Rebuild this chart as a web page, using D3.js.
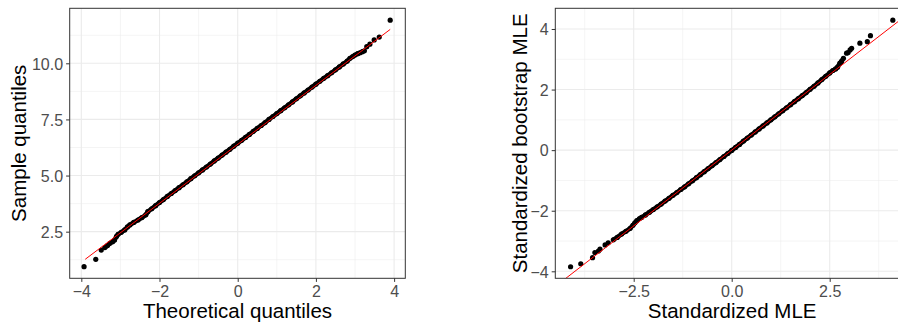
<!DOCTYPE html>
<html>
<head>
<meta charset="utf-8">
<script src="https://cdn.jsdelivr.net/npm/d3@7"></script>
<style>
  body { margin: 0; background: #fff; }
  svg { display: block; font-family: "Liberation Sans", Arial, sans-serif; }
</style>
</head>
<body>
<svg id="chart" width="898" height="324"></svg>
<script>
// left panel: normal QQ plot of the sample (theoretical, sample)
const qqLeft = [
  [-3.93, 0.94], [-3.63, 1.27], [-3.49, 1.68], [-3.40, 1.79], [-3.33, 1.88], [-3.27, 1.98],
  [-3.20, 2.05], [-3.15, 2.13], [-3.10, 2.29], [-3.06, 2.38], [-2.98, 2.47], [-2.89, 2.58],
  [-2.82, 2.71], [-2.76, 2.80], [-2.66, 2.91], [-2.55, 3.02], [-2.45, 3.13], [-2.35, 3.25],
  [-2.30, 3.39], [-2.20, 3.52], [-2.10, 3.66], [-2.00, 3.80], [-1.90, 3.93], [-1.80, 4.07],
  [-1.70, 4.20], [-1.60, 4.33], [-1.50, 4.46], [-1.40, 4.59], [-1.30, 4.72], [-1.20, 4.86],
  [-1.10, 4.99], [-1.00, 5.12], [-0.90, 5.25], [-0.80, 5.38], [-0.70, 5.51], [-0.60, 5.65],
  [-0.50, 5.78], [-0.40, 5.91], [-0.30, 6.04], [-0.20, 6.17], [-0.10, 6.31], [0.00, 6.44],
  [0.10, 6.57], [0.20, 6.70], [0.30, 6.83], [0.40, 6.97], [0.50, 7.10], [0.60, 7.23],
  [0.70, 7.36], [0.80, 7.50], [0.90, 7.63], [1.00, 7.76], [1.10, 7.89], [1.20, 8.02],
  [1.30, 8.15], [1.40, 8.28], [1.50, 8.42], [1.60, 8.55], [1.70, 8.68], [1.80, 8.81],
  [1.90, 8.94], [2.00, 9.07], [2.10, 9.20], [2.20, 9.33], [2.30, 9.45], [2.40, 9.58],
  [2.50, 9.71], [2.60, 9.84], [2.70, 9.97], [2.80, 10.10], [2.87, 10.22], [2.94, 10.30],
  [3.00, 10.37], [3.07, 10.43], [3.13, 10.47], [3.19, 10.52], [3.24, 10.56], [3.30, 10.74],
  [3.38, 10.85], [3.49, 11.04], [3.62, 11.17], [3.90, 11.92]
];
const lineLeft = [[-3.90, 1.27], [3.90, 11.51]];
// theoretical range where the points overlap into one band
const bandLeft = [-3.45, 3.24];

// right panel: standardized bootstrap MLE vs standardized MLE
const qqRight = [
  [-4.11, -3.85], [-3.85, -3.75], [-3.55, -3.55], [-3.49, -3.38], [-3.40, -3.33], [-3.36, -3.27],
  [-3.23, -3.13], [-3.15, -3.06], [-3.02, -2.96], [-2.92, -2.88], [-2.81, -2.77], [-2.70, -2.68],
  [-2.59, -2.58], [-2.52, -2.48], [-2.47, -2.40], [-2.42, -2.33], [-2.35, -2.26], [-2.30, -2.22],
  [-2.20, -2.14], [-2.10, -2.05], [-2.00, -1.96], [-1.90, -1.87], [-1.80, -1.78], [-1.70, -1.68],
  [-1.60, -1.59], [-1.50, -1.49], [-1.40, -1.40], [-1.30, -1.30], [-1.20, -1.21], [-1.10, -1.11],
  [-1.00, -1.01], [-0.90, -0.91], [-0.80, -0.81], [-0.70, -0.71], [-0.60, -0.61], [-0.50, -0.51],
  [-0.40, -0.41], [-0.30, -0.31], [-0.20, -0.21], [-0.10, -0.11], [0.00, -0.01], [0.10, 0.09],
  [0.20, 0.19], [0.30, 0.30], [0.40, 0.40], [0.50, 0.50], [0.60, 0.60], [0.70, 0.70],
  [0.80, 0.80], [0.90, 0.90], [1.00, 1.00], [1.10, 1.10], [1.20, 1.20], [1.30, 1.30],
  [1.40, 1.40], [1.50, 1.50], [1.60, 1.60], [1.70, 1.70], [1.80, 1.80], [1.90, 1.90],
  [2.00, 2.01], [2.10, 2.11], [2.20, 2.22], [2.30, 2.33], [2.40, 2.44], [2.50, 2.55],
  [2.58, 2.63], [2.65, 2.68], [2.70, 2.74], [2.76, 2.87], [2.80, 2.93], [2.85, 3.03],
  [2.93, 3.20], [2.97, 3.22], [3.02, 3.31], [3.06, 3.36], [3.27, 3.53], [3.46, 3.58],
  [3.54, 3.78], [4.11, 4.29]
];
const lineRight = [[-5, -5], [5, 5]];
const bandRight = [-3.05, 2.85];

const leftXTicks = [-4, -2, 0, 2, 4];
const leftXMinor = [-3, -1, 1, 3];
const leftYTicks = [2.5, 5, 7.5, 10];
const leftYMinor = [1.25, 3.75, 6.25, 8.75, 11.25];
const rightXTicks = [-2.5, 0, 2.5];
const rightXMinor = [-3.75, -1.25, 1.25, 3.75];
const rightYTicks = [-4, -2, 0, 2, 4];
const rightYMinor = [-3, -1, 1, 3];

const svg = d3.select('#chart');
const panelTop = 8.3, panelBottom = 278.3;

function drawPanel(opt) {
  const x = d3.scaleLinear().domain(opt.xDomain).range([opt.left, opt.right]);
  const y = d3.scaleLinear().domain(opt.yDomain).range([panelBottom, panelTop]);
  const g = svg.append('g');

  g.append('clipPath').attr('id', opt.id)
    .append('rect')
    .attr('x', opt.left).attr('y', panelTop)
    .attr('width', opt.right - opt.left).attr('height', panelBottom - panelTop);

  // minor then major grid
  g.selectAll('.vminor').data(opt.xMinor).enter().append('line')
    .attr('x1', d => x(d)).attr('x2', d => x(d)).attr('y1', panelTop).attr('y2', panelBottom)
    .attr('stroke', '#ebebeb').attr('stroke-width', 0.55);
  g.selectAll('.hminor').data(opt.yMinor).enter().append('line')
    .attr('y1', d => y(d)).attr('y2', d => y(d)).attr('x1', opt.left).attr('x2', opt.right)
    .attr('stroke', '#ebebeb').attr('stroke-width', 0.55);
  g.selectAll('.vmajor').data(opt.xTicks).enter().append('line')
    .attr('x1', d => x(d)).attr('x2', d => x(d)).attr('y1', panelTop).attr('y2', panelBottom)
    .attr('stroke', '#ebebeb').attr('stroke-width', 1.1);
  g.selectAll('.hmajor').data(opt.yTicks).enter().append('line')
    .attr('y1', d => y(d)).attr('y2', d => y(d)).attr('x1', opt.left).attr('x2', opt.right)
    .attr('stroke', '#ebebeb').attr('stroke-width', 1.1);

  const plot = g.append('g').attr('clip-path', 'url(#' + opt.id + ')');

  // the dense middle of the sample shows as a solid band
  plot.append('path')
    .datum(opt.data.filter(d => d[0] >= opt.band[0] && d[0] <= opt.band[1]))
    .attr('fill', 'none')
    .attr('stroke', 'black')
    .attr('stroke-width', 4.6)
    .attr('stroke-linejoin', 'round')
    .attr('d', d3.line().x(d => x(d[0])).y(d => y(d[1])));

  plot.selectAll('circle')
    .data(opt.data)
    .enter()
    .append('circle')
    .attr('cx', d => x(d[0]))
    .attr('cy', d => y(d[1]))
    .attr('r', 2.6)
    .attr('fill', 'black');

  plot.append('path')
    .datum(opt.line)
    .attr('fill', 'none')
    .attr('stroke', 'red')
    .attr('stroke-width', 1)
    .attr('d', d3.line().x(d => x(d[0])).y(d => y(d[1])));

  g.append('rect')
    .attr('x', opt.left).attr('y', panelTop)
    .attr('width', opt.right - opt.left).attr('height', panelBottom - panelTop)
    .attr('fill', 'none').attr('stroke', '#333333').attr('stroke-width', 1);

  const xAxis = g.append('g')
    .attr('transform', 'translate(0,' + panelBottom + ')')
    .call(d3.axisBottom(x).tickValues(opt.xTicks).tickFormat(opt.xFormat).tickSizeOuter(0).tickSizeInner(3.6).tickPadding(4));
  const yAxis = g.append('g')
    .attr('transform', 'translate(' + opt.left + ',0)')
    .call(d3.axisLeft(y).tickValues(opt.yTicks).tickFormat(opt.yFormat).tickSizeOuter(0).tickSizeInner(3.6).tickPadding(3));

  [xAxis, yAxis].forEach(a => {
    a.select('.domain').remove();
    a.selectAll('line').attr('stroke', '#333333').attr('stroke-width', 1);
    a.selectAll('text').attr('fill', '#4d4d4d').style('font-size', '16px')
      .style('font-family', '"Liberation Sans", Arial, sans-serif');
  });
  yAxis.selectAll('text').attr('dy', '0.36em');

  g.append('text')
    .attr('x', (opt.left + opt.right) / 2)
    .attr('y', 318.3)
    .attr('text-anchor', 'middle')
    .style('font-size', '20.5px')
    .attr('fill', 'black')
    .text(opt.xTitle);

  g.append('text')
    .attr('transform', 'translate(' + opt.yTitleX + ',' + (panelTop + panelBottom) / 2 + ') rotate(-90)')
    .attr('text-anchor', 'middle')
    .style('font-size', '20.5px')
    .attr('fill', 'black')
    .text(opt.yTitle);
}

drawPanel({
  id: 'clipLeft', left: 69.7, right: 405.3,
  xDomain: [-4.297, 4.286], yDomain: [0.423, 12.45],
  xTicks: leftXTicks, xMinor: leftXMinor, yTicks: leftYTicks, yMinor: leftYMinor,
  xFormat: d3.format('d'), yFormat: d3.format('.1f'),
  data: qqLeft, line: lineLeft, band: bandLeft,
  xTitle: 'Theoretical quantiles', yTitle: 'Sample quantiles', yTitleX: 26
});

drawPanel({
  id: 'clipRight', left: 555.3, right: 909,
  xDomain: [-4.5, 4.523], yDomain: [-4.231, 4.683],
  xTicks: rightXTicks, xMinor: rightXMinor, yTicks: rightYTicks, yMinor: rightYMinor,
  xFormat: d3.format('.1f'), yFormat: d3.format('d'),
  data: qqRight, line: lineRight, band: bandRight,
  xTitle: 'Standardized MLE', yTitle: 'Standardized bootstrap MLE', yTitleX: 527
});
</script>
</body>
</html>
